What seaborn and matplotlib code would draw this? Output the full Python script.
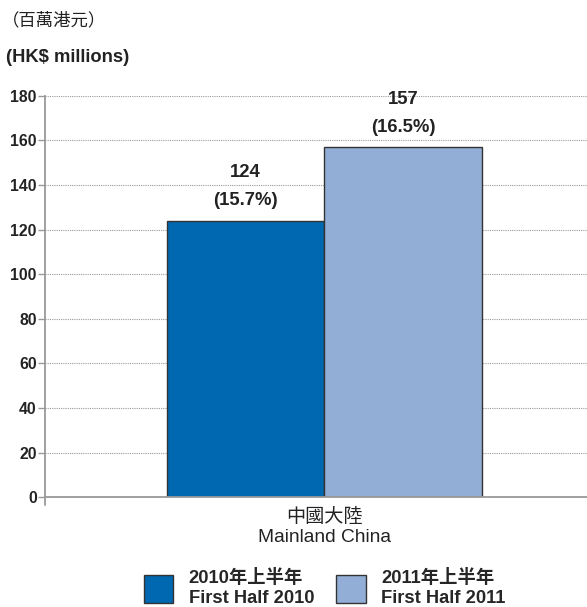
import matplotlib
matplotlib.use("Agg")
import matplotlib.pyplot as plt
import seaborn as sns
import pandas as pd
from matplotlib.patches import Patch

# Chart data
regions = ["中國大陸\nMainland China"]
periods = ["2010年上半年\nFirst Half 2010", "2011年上半年\nFirst Half 2011"]
values = [124, 157]
shares = ["15.7%", "16.5%"]
yticks = [0, 20, 40, 60, 80, 100, 120, 140, 160, 180]

colors = ["#0067B1", "#92AED7"]
FONT = ["Liberation Sans", "Noto Sans CJK TC"]
TXT = "#222222"

sns.set_theme(style="white")
plt.rcParams["font.family"] = FONT

df = pd.DataFrame({
    "region": [regions[0]] * len(periods),
    "period": periods,
    "value": values,
})

fig = plt.figure(figsize=(5.87, 6.07), dpi=100)
ax = fig.add_axes([0.0767, 0.181, 0.9233, 0.661])

sns.barplot(data=df, x="region", y="value", hue="period", palette=colors,
            width=0.8, edgecolor="#333333", linewidth=1.0, saturation=1,
            ax=ax, legend=False)

ax.set_ylim(0, 180)
ax.set_xlim(-0.708, 0.665)
ax.set_yticks(yticks)
ax.set_yticklabels([str(t) for t in yticks], fontsize=11.3, fontweight="bold",
                   color=TXT)
ax.set_xlabel("")
ax.set_ylabel("")
ax.tick_params(axis="x", length=0, pad=8, labelsize=13.8, labelcolor=TXT)
ax.tick_params(axis="y", length=5, width=1, color="#999999", left=True,
               direction="out", pad=1)
for lab in ax.get_xticklabels():
    lab.set_linespacing(1.2)

ax.grid(axis="y", linestyle=(0, (1, 1)), color="#999999", linewidth=0.8)
ax.set_axisbelow(True)
for s in ["top", "right"]:
    ax.spines[s].set_visible(False)
for s in ["left", "bottom"]:
    ax.spines[s].set_color("#999999")
    ax.spines[s].set_linewidth(1.3)
ax.plot([0, 0], [0, -0.02], transform=ax.transAxes, color="#999999",
        lw=1.3, clip_on=False)

# Value and share labels above each bar
for patch, v, sh in zip(ax.patches, values, shares):
    cx = patch.get_x() + patch.get_width() / 2
    top = patch.get_height()
    ax.annotate(f"({sh})", (cx, top), xytext=(0, 20), textcoords="offset pixels",
                ha="center", va="center", fontsize=13.3, fontweight="bold",
                color=TXT)
    ax.annotate(str(v), (cx, top), xytext=(0, 48), textcoords="offset pixels",
                ha="center", va="center", fontsize=13.3, fontweight="bold",
                color=TXT)

# Unit headings
fig.text(0.004, 0.967, "（百萬港元）", fontsize=12.5, color=TXT,
         va="center", ha="left")
fig.text(0.010, 0.906, "(HK$ millions)", fontsize=13.2, fontweight="bold",
         color=TXT, va="center", ha="left")

# Legend
handles = [Patch(facecolor=c, edgecolor="#333333", linewidth=1.0) for c in colors]
fig.legend(handles, periods, loc="center", bbox_to_anchor=(0.553, 0.031),
           ncol=2, frameon=False, handlelength=1.6, handleheight=2.0,
           handletextpad=0.85, columnspacing=1.2, labelspacing=0.2,
           prop={"size": 13.2, "weight": "bold", "family": FONT})

fig.savefig("out.png", dpi=100)
